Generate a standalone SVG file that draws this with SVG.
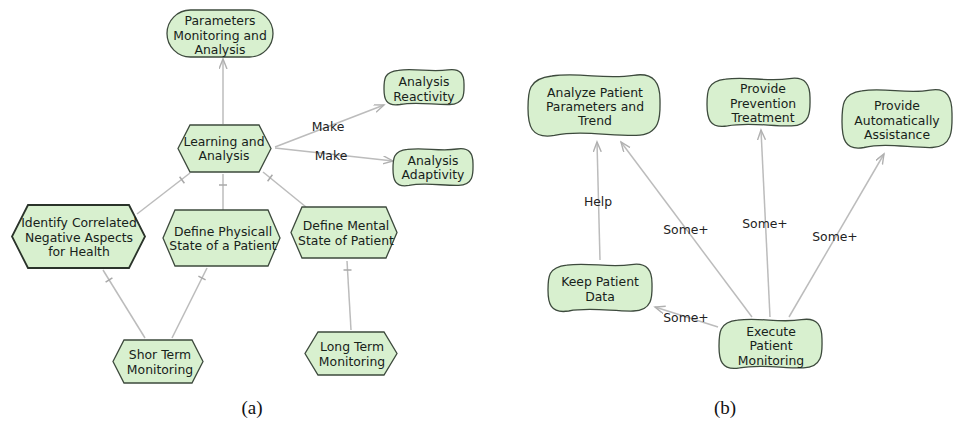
<svg xmlns="http://www.w3.org/2000/svg" width="954" height="422" viewBox="0 0 954 422">
<style>
.n{fill:#d8f0cf;stroke:#3d4a3d;stroke-width:1.3}
.nd{fill:#d8f0cf;stroke:#2a332a;stroke-width:1.8}
.t{font-family:"DejaVu Sans",sans-serif;font-size:12.4px;fill:#17221a;text-anchor:middle}
.e{stroke:#bcbcbc;stroke-width:1.5;fill:none}
.ea{stroke:#bcbcbc;stroke-width:1.5;fill:none;marker-end:url(#arr)}
.tk{stroke:#a8a8a8;stroke-width:1.5}
.l{font-family:"DejaVu Sans",sans-serif;font-size:12.4px;fill:#222;text-anchor:middle}
.cap{font-family:"Liberation Serif",serif;font-size:19px;fill:#111;text-anchor:middle}
</style>
<defs>
<marker id="arr" markerUnits="userSpaceOnUse" markerWidth="12" markerHeight="10" refX="10" refY="4" orient="auto">
<path d="M0,0 L10,4 L0,8" fill="none" stroke="#b0b0b0" stroke-width="1.4"/>
</marker>
</defs>
<rect width="954" height="422" fill="#fff"/>

<g id="connectors">
<line class="ea" x1="223" y1="124" x2="223" y2="59"/>
<line class="ea" x1="275" y1="147" x2="384" y2="105"/>
<line class="ea" x1="275" y1="148" x2="393" y2="161"/>
<line class="e" x1="190" y1="173" x2="137" y2="214"/>
<line class="tk" x1="184.4" y1="183.2" x2="179.6" y2="176.8"/>
<line class="e" x1="223" y1="174" x2="223" y2="210"/>
<line class="tk" x1="219" y1="185" x2="227" y2="185"/>
<line class="e" x1="263" y1="172" x2="306" y2="207"/>
<line class="tk" x1="267.6" y1="181.2" x2="272.4" y2="174.8"/>
<line class="e" x1="103" y1="270" x2="145" y2="338"/>
<line class="tk" x1="112.4" y1="277.9" x2="105.6" y2="282.1"/>
<line class="e" x1="207" y1="268" x2="172" y2="338"/>
<line class="tk" x1="205.6" y1="279.8" x2="198.4" y2="276.2"/>
<line class="e" x1="347" y1="261" x2="351" y2="330"/>
<line class="tk" x1="343.5" y1="270" x2="351.5" y2="270"/>
<line class="ea" x1="600" y1="260" x2="597" y2="142"/>
<line class="ea" x1="752" y1="317" x2="621" y2="142"/>
<line class="ea" x1="770" y1="317" x2="761" y2="130"/>
<line class="ea" x1="789" y1="317" x2="884" y2="154"/>
<line class="ea" x1="718" y1="327" x2="655" y2="307"/>
<text class="l" x="328" y="131">Make</text>
<text class="l" x="331" y="160">Make</text>
<text class="l" x="598" y="206">Help</text>
<text class="l" x="686" y="234">Some+</text>
<text class="l" x="765" y="228">Some+</text>
<text class="l" x="835" y="241">Some+</text>
<text class="l" x="686" y="322">Some+</text>
</g>

<g id="parameters">
<rect class="n" x="167" y="10" width="106" height="47" rx="23.5"/>
<text class="t" x="220" y="25">Parameters</text>
<text class="t" x="220" y="39.5">Monitoring and</text>
<text class="t" x="220" y="54">Analysis</text>
</g>
<g id="learning">
<polygon class="n" points="190,125 259,125 271,148.5 259,172 190,172 178,148.5"/>
<text class="t" x="224" y="146">Learning and</text>
<text class="t" x="224" y="160">Analysis</text>
</g>
<g id="reactivity">
<path class="n" d="M398.4,70.3 C416,68 430.4,72.6 448,69.9 C460.8,68 464,74.8 464,84 C464,91.6 465.6,104.1 449.6,104.5 C433.6,104.9 416,101.4 400,104.5 C385.6,106.8 384,98.4 384,88.9 C384,79.4 384,71.8 398.4,70.3 Z"/>
<text class="t" x="424" y="86">Analysis</text>
<text class="t" x="424" y="101">Reactivity</text>
</g>
<g id="adaptivity">
<path class="n" d="M407.4,149.4 C425,147 439.4,151.8 457,149 C469.8,147 473,154.2 473,163.8 C473,171.8 474.6,185 458.6,185.4 C442.6,185.8 425,182.2 409,185.4 C394.6,187.8 393,179 393,169 C393,159 393,151 407.4,149.4 Z"/>
<text class="t" x="433" y="165">Analysis</text>
<text class="t" x="433" y="179">Adaptivity</text>
</g>
<g id="identify">
<polygon class="nd" points="28,205 129,205 145,236.5 129,268 28,268 12,236.5"/>
<text class="t" x="79" y="227">Identify Correlated</text>
<text class="t" x="79" y="242">Negative Aspects</text>
<text class="t" x="79" y="256">for Health</text>
</g>
<g id="physical">
<polygon class="n" points="175,210 268,210 280,238 268,266 175,266 163,238"/>
<text class="t" x="223" y="236">Define Physicall</text>
<text class="t" x="223" y="250">State of a Patient</text>
</g>
<g id="mental">
<polygon class="n" points="302,207 386,207 397,232.5 386,258 302,258 291,232.5"/>
<text class="t" x="346" y="230">Define Mental</text>
<text class="t" x="346" y="245">State of Patient</text>
</g>
<g id="short">
<polygon class="n" points="124,340 192,340 203,361.5 192,383 124,383 113,361.5"/>
<text class="t" x="160" y="359">Shor Term</text>
<text class="t" x="160" y="374">Monitoring</text>
</g>
<g id="long">
<polygon class="n" points="318,332 384,332 397,353.5 384,375 318,375 305,353.5"/>
<text class="t" x="352" y="351">Long Term</text>
<text class="t" x="352" y="366">Monitoring</text>
</g>

<g id="analyze">
<path class="n" d="M551.8,76 C580.8,72 604.6,79.9 633.6,75.3 C654.7,72 660,83.9 660,99.7 C660,112.9 662.6,134.7 636.2,135.4 C609.8,136 580.8,130.1 554.4,135.4 C530.6,139.3 528,124.8 528,108.3 C528,91.8 528,78.6 551.8,76 Z"/>
<text class="t" x="595" y="97">Analyze Patient</text>
<text class="t" x="595" y="111">Parameters and</text>
<text class="t" x="595" y="125">Trend</text>
</g>
<g id="prevention">
<path class="n" d="M725.5,79.1 C748.2,76 766.7,82.2 789.4,78.6 C805.9,76 810,85.4 810,97.8 C810,108.2 812.1,125.4 791.5,125.9 C770.9,126.4 748.2,121.8 727.6,125.9 C709.1,129 707,117.6 707,104.6 C707,91.6 707,81.2 725.5,79.1 Z"/>
<text class="t" x="763" y="93">Provide</text>
<text class="t" x="763" y="108">Prevention</text>
<text class="t" x="763" y="122">Treatment</text>
</g>
<g id="assistance">
<path class="n" d="M861.8,90.8 C886,87 905.8,94.6 930,90.2 C947.6,87 952,98.3 952,113.5 C952,126.1 954.2,146.9 932.2,147.5 C910.2,148.1 886,142.4 864,147.5 C844.2,151.3 842,137.4 842,121.7 C842,105.9 842,93.3 861.8,90.8 Z"/>
<text class="t" x="897" y="110">Provide</text>
<text class="t" x="897" y="125">Automatically</text>
<text class="t" x="897" y="139">Assistance</text>
</g>
<g id="keep">
<path class="n" d="M566.7,265.1 C589.6,262 608.3,268.1 631.2,264.6 C647.8,262 652,271.2 652,283.4 C652,293.6 654.1,310.5 633.3,311 C612.5,311.5 589.6,306.9 568.8,311 C550.1,314 548,302.8 548,290 C548,277.3 548,267.1 566.7,265.1 Z"/>
<text class="t" x="600" y="286">Keep Patient</text>
<text class="t" x="600" y="301">Data</text>
</g>
<g id="execute">
<path class="n" d="M737.5,320.2 C760.2,317 778.7,323.4 801.4,319.7 C817.9,317 822,326.5 822,339.3 C822,349.9 824.1,367.4 803.5,367.9 C782.9,368.4 760.2,363.6 739.6,367.9 C721.1,371.1 719,359.4 719,346.2 C719,332.9 719,322.3 737.5,320.2 Z"/>
<text class="t" x="771" y="336">Execute</text>
<text class="t" x="771" y="350">Patient</text>
<text class="t" x="771" y="365">Monitoring</text>
</g>

<text class="cap" x="252" y="414">(a)</text>
<text class="cap" x="725" y="414">(b)</text>
</svg>
